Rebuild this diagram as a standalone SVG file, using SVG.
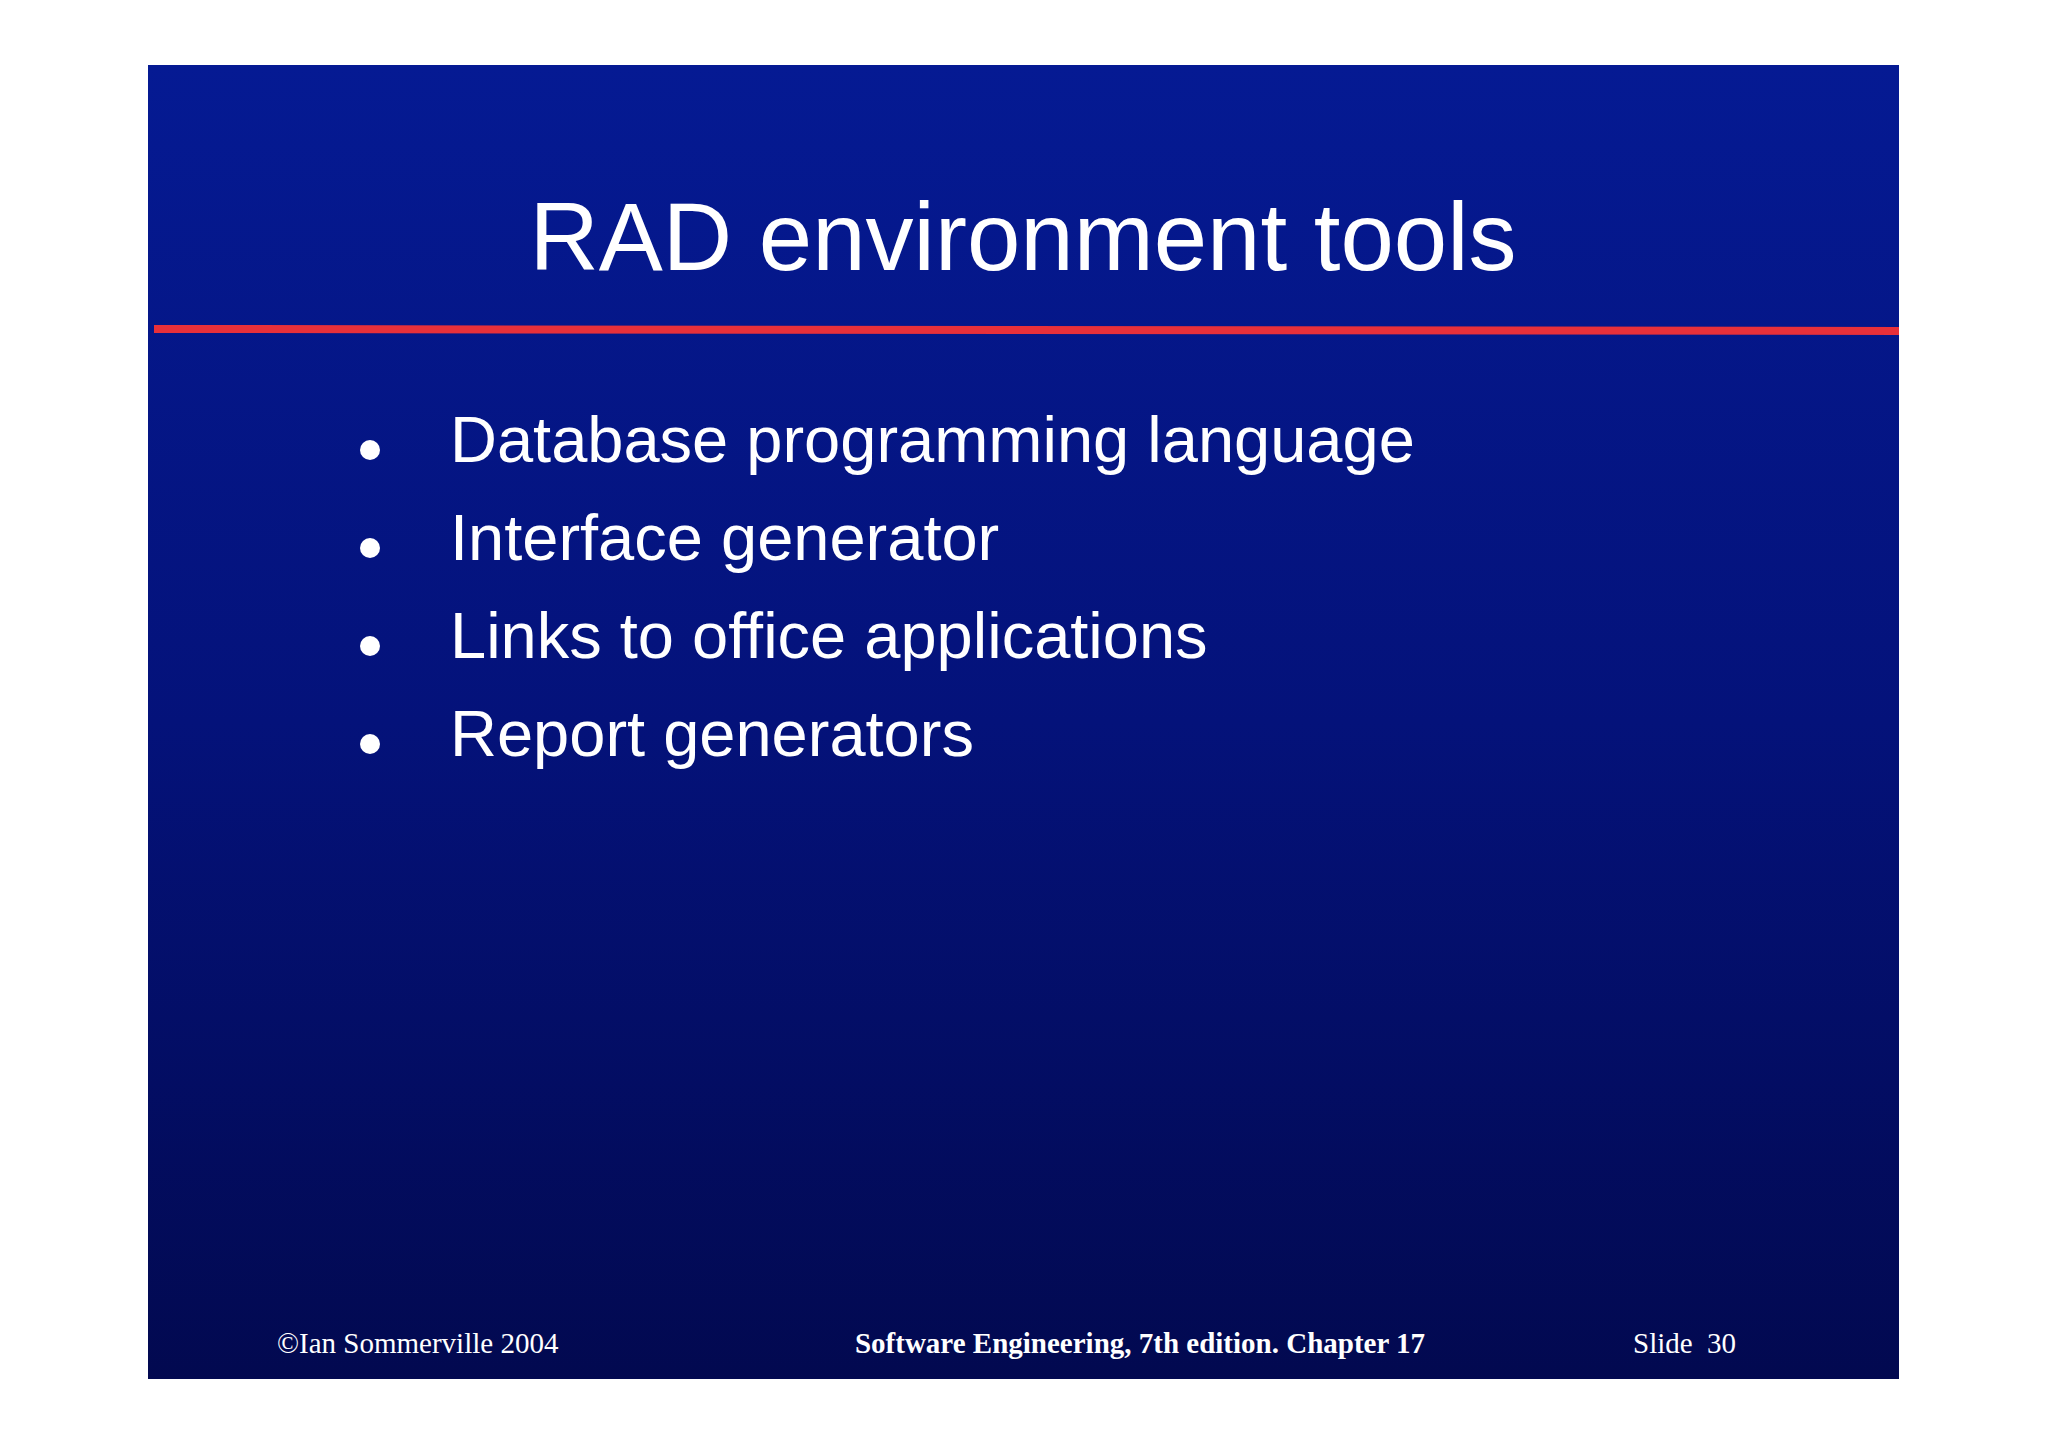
<svg xmlns="http://www.w3.org/2000/svg" width="2048" height="1447" viewBox="0 0 2048 1447">
<defs>
<linearGradient id="bg" x1="0" y1="0" x2="0" y2="1">
<stop offset="0" stop-color="#051a93"/>
<stop offset="0.5" stop-color="#04127a"/>
<stop offset="1" stop-color="#020950"/>
</linearGradient>
<style>
.b{font-family:"Liberation Sans",Arial,sans-serif;font-size:65px;fill:#fff}
.f{font-family:"Liberation Serif","Times New Roman",serif;font-size:29px;fill:#fff}
</style>
</defs>
<rect width="2048" height="1447" fill="#fff"/>
<rect x="148" y="65" width="1751" height="1314" fill="url(#bg)"/>
<text x="1023" y="270" text-anchor="middle" font-family="Liberation Sans,Arial,sans-serif" font-size="96" fill="#fff">RAD environment tools</text>
<line x1="154" y1="329" x2="1899" y2="331" stroke="#e8303a" stroke-width="8"/>
<g fill="#fff">
<circle cx="370" cy="450" r="10"/>
<circle cx="370" cy="548" r="10"/>
<circle cx="370" cy="646" r="10"/>
<circle cx="370" cy="744" r="10"/>
</g>
<text class="b" x="450" y="462">Database programming language</text>
<text class="b" x="450" y="560">Interface generator</text>
<text class="b" x="450" y="658">Links to office applications</text>
<text class="b" x="450" y="756">Report generators</text>
<text class="f" x="277" y="1353">©Ian Sommerville 2004</text>
<text class="f" x="1140" y="1353" text-anchor="middle" font-weight="bold">Software Engineering, 7th edition. Chapter 17</text>
<text class="f" x="1633" y="1353" xml:space="preserve">Slide  30</text>
</svg>
